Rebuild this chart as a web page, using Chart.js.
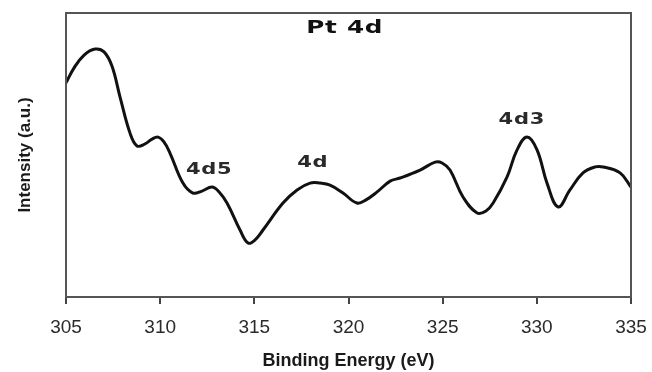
<!DOCTYPE html>
<html><head><meta charset="utf-8">
<script src="https://cdn.jsdelivr.net/npm/chart.js@4/dist/chart.umd.min.js"></script>
<style>html,body{margin:0;padding:0;background:#fff}</style>
</head><body>
<canvas id="c" width="652" height="372"></canvas>
<script>
// Pt 4d XPS spectrum
const energy = [305.00,305.42,305.96,306.54,307.02,307.44,307.87,308.40,308.77,309.20,309.57,309.89,310.20,310.52,311.21,311.74,312.22,312.75,313.13,313.55,314.24,314.67,315.04,315.46,316.52,317.27,317.96,318.49,319.02,319.71,320.45,320.93,321.52,322.21,322.74,323.80,324.60,324.97,325.39,326.08,326.83,327.30,327.68,328.42,328.95,329.48,330.01,330.54,331.13,331.76,332.45,333.09,333.52,334.42,335.00];
const intensity = [75.4,80.6,85.2,87.3,86.3,81.3,70.4,57.7,53.2,53.9,55.6,56.3,54.6,50.7,40.1,36.6,37.3,38.7,37.0,33.1,23.6,19.0,20.1,23.6,33.1,37.7,40.1,40.1,39.4,36.6,33.1,34.2,37.0,40.8,41.9,44.7,47.5,47.2,44.7,35.2,29.6,30.3,33.1,42.3,51.8,56.3,51.8,40.1,31.7,37.7,43.7,45.8,45.8,43.7,38.7];
const xTicks = [305,310,315,320,325,330,335];
const peakNames = ['Pt 4d','4d5','4d','4d3'];
const peakX = [319.8,312.6,318.1,329.2];
const peakY = [94.4,44.7,47.2,62.3];

const frame = {
  id:'frame',
  afterDatasetsDraw(chart){
    const {ctx, chartArea:a, scales:{x,y}} = chart;
    ctx.save();
    ctx.strokeStyle='#555'; ctx.lineWidth=2;
    ctx.strokeRect(a.left, a.top, a.right-a.left, a.bottom-a.top);
    ctx.textAlign='center'; ctx.textBaseline='middle';
    peakNames.forEach((t,i)=>{
      ctx.save();
      ctx.translate(x.getPixelForValue(peakX[i]), y.getPixelForValue(peakY[i]));
      ctx.scale(i===0 ? 1.45 : 1.4, 1);
      ctx.fillStyle = i===0 ? '#111' : '#2a2a2a';
      ctx.font = i===0 ? 'bold 17px "DejaVu Sans"' : 'bold 15px "DejaVu Sans"';
      ctx.letterSpacing = '0.5px';
      ctx.fillText(t,0,0);
      ctx.restore();
    });
    ctx.restore();
  }
};

new Chart(document.getElementById('c'), {
  type:'line',
  data:{ datasets:[{ data: energy.map((e,i)=>({x:e, y:intensity[i]})), borderColor:'#111', borderWidth:3, pointRadius:0, tension:0.4, fill:false }] },
  options:{
    responsive:false, animation:false, devicePixelRatio:1,
    layout:{ padding:{ top:13, right:21, left:0, bottom:0 } },
    plugins:{ legend:{ display:false }, tooltip:{ enabled:false } },
    scales:{
      x:{
        type:'linear', min:305, max:335,
        afterBuildTicks: s => { s.ticks = xTicks.map(v=>({value:v})); },
        afterFit: s => { s.height = 75; s.paddingLeft = 0; s.paddingRight = 0; },
        grid:{ drawOnChartArea:false, drawTicks:true, tickLength:7, color:'#444', lineWidth:2 },
        border:{ display:true, color:'#555', width:2 },
        ticks:{ color:'#2a2a2a', font:{ family:'Liberation Sans', size:19 }, padding:12, maxRotation:0, autoSkip:false },
        title:{ display:true, text:'Binding Energy (eV)', color:'#1a1a1a', font:{ family:'Liberation Sans', size:18, weight:'bold' }, padding:{ top:0, bottom:0 } }
      },
      y:{
        min:0, max:100,
        afterFit: s => { s.width = 66; s.paddingTop = 0; s.paddingBottom = 0; },
        ticks:{ display:false },
        grid:{ display:false },
        border:{ display:true, color:'#555', width:2 },
        title:{ display:true, text:'Intensity (a.u.)', color:'#1a1a1a', font:{ family:'Liberation Sans', size:17, weight:'bold' }, padding:{ top:15, bottom:0 } }
      }
    }
  },
  plugins:[frame]
});
</script>
</body></html>
